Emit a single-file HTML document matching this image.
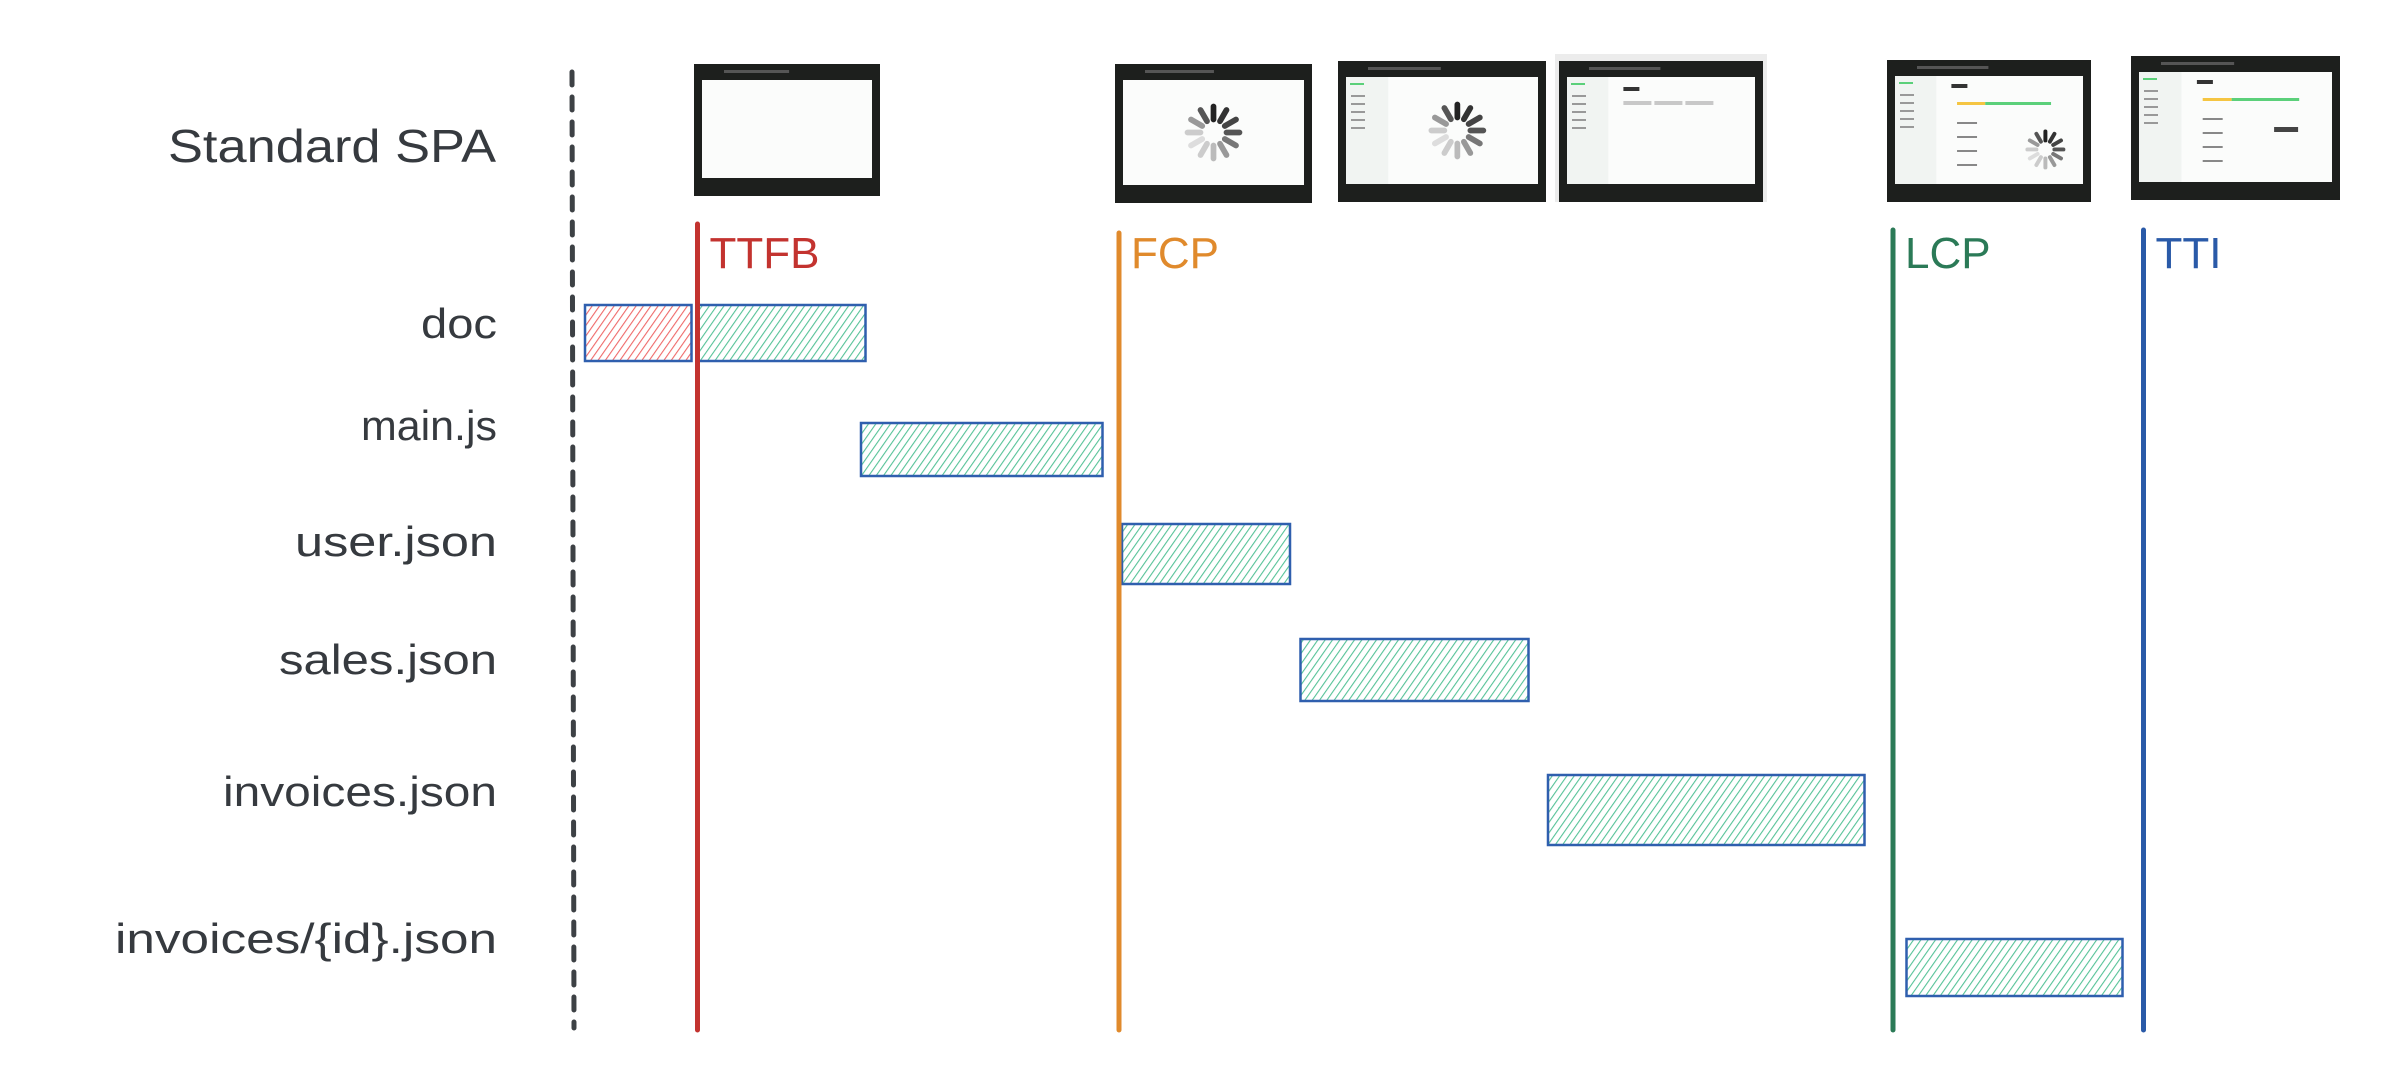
<!DOCTYPE html>
<html><head><meta charset="utf-8">
<style>
html,body{margin:0;padding:0;background:#fff;}
svg{display:block;}
text{font-family:"Liberation Sans","DejaVu Sans",sans-serif;}
</style></head>
<body>
<svg id="chart" width="2402" height="1092" viewBox="0 0 2402 1092" xmlns="http://www.w3.org/2000/svg">
<defs>
<pattern id="hatchGreen" patternUnits="userSpaceOnUse" width="6" height="6" patternTransform="rotate(35)">
<rect width="6" height="6" fill="#fff"/>
<line x1="0" y1="0" x2="0" y2="6" stroke="#38b886" stroke-width="2.2" opacity="0.85"/>
</pattern>
<pattern id="hatchRed" patternUnits="userSpaceOnUse" width="6" height="6" patternTransform="rotate(35)">
<rect width="6" height="6" fill="#fff"/>
<line x1="0" y1="0" x2="0" y2="6" stroke="#ec5050" stroke-width="2.2" opacity="0.85"/>
</pattern>
</defs>
<line x1="572" y1="72" x2="574" y2="1028" stroke="#3d4145" stroke-width="5" stroke-dasharray="13 12" stroke-linecap="round"/>
<text x="496" y="162" text-anchor="end" font-size="46" fill="#363a3f" textLength="328" lengthAdjust="spacingAndGlyphs">Standard SPA</text>
<g id="thumbs"></g>
<g id="bars"></g>
<g id="markers"></g>
<g id="labels"></g>
</svg>
<script>
// Data (time in ms)
const rowNames = ["doc","main.js","user.json","sales.json","invoices.json","invoices/{id}.json"];
const waitStart = [0, null, null, null, null, null];
const waitEnd   = [71, null, null, null, null, null];
const loadStart = [75, 184, 358, 477, 642, 881];
const loadEnd   = [187, 345, 470, 629, 853, 1025];
const markerNames = ["TTFB","FCP","LCP","TTI"];
const markerTimes = [75, 356, 872, 1039];
const markerColors = ["#c3332f","#e08a2c","#2b7a57","#2a5aa8"];

// Layout (not data)
const X0 = 585, PXPERMS = 1.5;
function xScale(t){ return X0 + t*PXPERMS; }
const rowTop = [305, 423, 524, 639, 775, 939];
const rowH   = [56, 53, 60, 62, 70, 57];
const labelY = [338, 440, 556, 674, 806, 953];
const labelW = [76, 136, 202, 218, 274, 382];
const NS = "http://www.w3.org/2000/svg";
function mk(tag, attrs, parent){
  const e = document.createElementNS(NS, tag);
  for (const k in attrs) e.setAttribute(k, attrs[k]);
  parent.appendChild(e); return e;
}
const bars = document.getElementById('bars');
const labels = document.getElementById('labels');
rowNames.forEach((name,i)=>{
  if (waitStart[i] !== null) {
    const r = mk('rect',{x:xScale(waitStart[i]),y:rowTop[i],width:xScale(waitEnd[i])-xScale(waitStart[i]),height:rowH[i],fill:'url(#hatchRed)',stroke:'#2f5fae','stroke-width':2.5},bars);
    
    
  }
  const b = mk('rect',{x:xScale(loadStart[i]),y:rowTop[i],width:xScale(loadEnd[i])-xScale(loadStart[i]),height:rowH[i],fill:'url(#hatchGreen)',stroke:'#2f5fae','stroke-width':2.5},bars);
  
  
  const t = mk('text',{x:497,y:labelY[i],'text-anchor':'end','font-size':42,fill:'#363a3f',textLength:labelW[i],lengthAdjust:'spacingAndGlyphs'},labels);
  t.textContent = name;
  
  
});
const markers = document.getElementById('markers');
const markerTop = [224, 233, 230, 230];
markerNames.forEach((m,i)=>{
  const x = xScale(markerTimes[i]);
  const l = mk('line',{x1:x,y1:markerTop[i],x2:x,y2:1030,stroke:markerColors[i],'stroke-width':5,'stroke-linecap':'round'},markers);
  
  
  const t = mk('text',{x:x+12,y:268,'font-size':44,fill:markerColors[i]},markers);
  t.textContent = m;
  
  
});
// thumbnails
const thumbs = document.getElementById('thumbs');
const thumbBoxes = [[694,64,186,132,'blank'],[1115,64,197,139,'spin'],[1338,61,208,141,'sidespin'],[1559,61,204,141,'skeleton'],[1887,60,204,142,'partial'],[2131,56,209,144,'full']];
function spinner(g,cx,cy,r){
  for(let k=0;k<12;k++){
    const a = k*Math.PI/6;
    const shade = ['#222','#333','#444','#555','#777','#999','#bbb','#ccc','#ddd','#ccc','#999','#555'][k];
    mk('line',{x1:cx+Math.sin(a)*r*0.5,y1:cy-Math.cos(a)*r*0.5,x2:cx+Math.sin(a)*r,y2:cy-Math.cos(a)*r,stroke:shade,'stroke-width':r*0.22,'stroke-linecap':'round'},g);
  }
}
thumbBoxes.forEach((b,i)=>{
  const [x,y,w,h,kind] = b;
  const g = mk('g',{},thumbs);
  
  
  if (kind==='skeleton') mk('rect',{x:x-4,y:y-7,width:w+8,height:h+7,fill:'#ececec'},g);
  mk('rect',{x:x,y:y,width:w,height:h,fill:'#1d1f1d'},g);
  mk('rect',{x:x+8,y:y+16,width:w-16,height:h-34,fill:'#fbfcfb'},g);
  mk('rect',{x:x+30,y:y+6,width:w*0.35,height:3,fill:'#555'},g);
  const ix=x+8, iy=y+16, iw=w-16, ih=h-34;
  if (kind!=='blank' && kind!=='spin'){
    mk('rect',{x:ix,y:iy,width:iw*0.22,height:ih,fill:'#f1f4f2'},g);
    mk('rect',{x:ix+4,y:iy+6,width:14,height:2,fill:'#5bd07a'},g);
    for(let k=0;k<5;k++) mk('rect',{x:ix+5,y:iy+18+k*8,width:14,height:2,fill:'#999'},g);
  }
  if (kind==='spin') spinner(g,ix+iw/2,iy+ih/2,26);
  if (kind==='sidespin') spinner(g,ix+iw*0.58,iy+ih/2,26);
  if (kind==='skeleton'){
    mk('rect',{x:ix+iw*0.3,y:iy+10,width:16,height:4,fill:'#333'},g);
    for(let k=0;k<3;k++) mk('rect',{x:ix+iw*0.3+k*31,y:iy+24,width:28,height:4,fill:'#c8c8c8'},g);
  }
  if (kind==='partial'||kind==='full'){
    mk('rect',{x:ix+iw*0.3,y:iy+8,width:16,height:4,fill:'#333'},g);
    mk('rect',{x:ix+iw*0.33,y:iy+26,width:iw*0.15,height:3,fill:'#f5c542'},g);
    mk('rect',{x:ix+iw*0.48,y:iy+26,width:iw*0.35,height:3,fill:'#5bd07a'},g);
    for(let k=0;k<4;k++) mk('rect',{x:ix+iw*0.33,y:iy+46+k*14,width:20,height:2,fill:'#888'},g);
    if (kind==='partial') spinner(g,ix+iw*0.8,iy+ih*0.68,18);
    else mk('rect',{x:ix+iw*0.7,y:iy+55,width:24,height:5,fill:'#444'},g);
  }
});
</script>
</body></html>
